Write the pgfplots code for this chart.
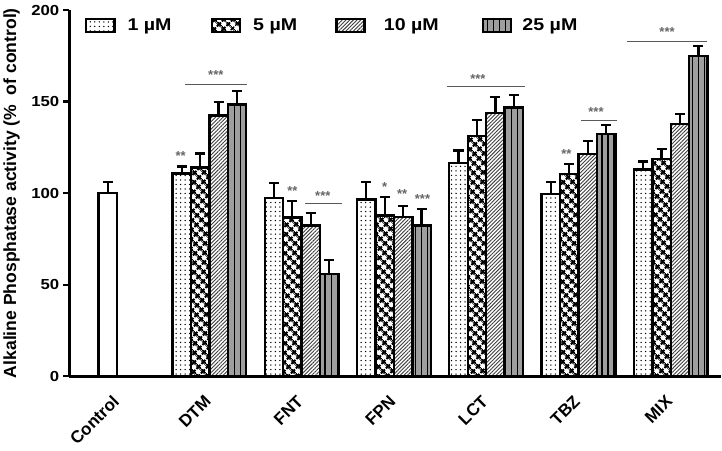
\documentclass[border=0pt]{standalone}
\usepackage{pgfplots}
\pgfplotsset{compat=1.18}
\usetikzlibrary{patterns.meta}
\usepackage{fontspec}
\setmainfont{Liberation Sans}
\newfontfamily\wide[FakeStretch=1.15]{Liberation Sans}

\tikzset{
  p1/.style={fill=white, postaction={pattern={Dots[distance=4.5pt, radius=0.75pt]}, pattern color=black}},
  p5/.style={fill=white, postaction={pattern={Hatch[angle=45, distance=6.4pt, line width=2.4pt]}, pattern color=black}},
  p10/.style={fill=white, postaction={pattern={Lines[angle=45, distance=2.6pt, line width=0.9pt]}, pattern color=black!75}},
  p25/.style={fill=black!38, postaction={pattern={Lines[angle=90, distance=6pt, line width=1.2pt]}, pattern color=black}},
  sig/.style={draw=black!65, line width=1pt},
  star/.style={text=black!60, font=\fontsize{13}{13}\selectfont\bfseries, inner sep=0pt},
}

\begin{document}
\begin{tikzpicture}
\begin{axis}[
  name=ax,
  scale only axis, width=649pt, height=365pt,
  xmin=-0.516, xmax=6.54, ymin=0, ymax=200,
  axis lines*=left,
  axis line style={line width=2.8pt},
  ybar, bar width=0.2,
  xtick={0,...,6},
  xticklabels={Control,DTM,FNT,FPN,LCT,TBZ,MIX},
  xtick style={draw=none},
  x tick label style={rotate=45, anchor=north east, font=\fontsize{17}{17}\selectfont\bfseries, xshift=-9pt, yshift=-1pt},
  ytick={0,50,...,200},
  y tick label style={font=\wide\fontsize{14.5}{14.5}\selectfont\bfseries, /pgf/number format/assume math mode=true, inner sep=0pt, xshift=-4pt},
  ytick style={line width=2.2pt, black},
  tick align=outside, major tick length=6pt,
  ylabel={\textbf{Alkaline Phosphatase activity (\%~~of control)}},
  ylabel style={font=\fontsize{17.5}{17.5}\selectfont, yshift=8pt},
  error bars/y dir=plus, error bars/y explicit,
  error bars/error bar style={line width=2.2pt, black},
  error bars/error mark options={rotate=90, mark size=5pt, line width=2.2pt, black},
  every axis plot/.append style={draw=black, line width=2.4pt},
  legend image code/.code={\draw[#1] (0pt,-6.5pt) rectangle (28pt,6.5pt);},
  legend columns=4,
  legend style={at={(0.019,0.988)}, anchor=north west, draw=none, fill=none,
    font=\wide\fontsize{17}{17}\selectfont\bfseries},
]
\addplot[p1, bar shift=-0.3] coordinates {(1,110.7) +- (0,3.8) (2,97.4) +- (0,8.0) (3,96.6) +- (0,9.4) (4,116.3) +- (0,7.0) (5,99.5) +- (0,6.8) (6,112.9) +- (0,4.4)};
\addlegendentry{\hspace*{10pt}1 µM\hspace*{37pt}}
\addplot[p5, bar shift=-0.1] coordinates {(1,114.0) +- (0,7.6) (2,86.8) +- (0,9.1) (3,87.8) +- (0,10.2) (4,131.3) +- (0,8.8) (5,110.4) +- (0,5.6) (6,118.7) +- (0,5.5)};
\addlegendentry{\hspace*{10pt}5 µM\hspace*{36pt}}
\addplot[p10, bar shift=0.1] coordinates {(1,142.5) +- (0,7.1) (2,82.4) +- (0,6.9) (3,87.0) +- (0,6.0) (4,143.9) +- (0,8.8) (5,121.5) +- (0,6.9) (6,137.7) +- (0,5.5)};
\addlegendentry{\hspace*{16pt}10 µM\hspace*{41pt}}
\addplot[p25, bar shift=0.3] coordinates {(1,148.5) +- (0,7.1) (2,55.7) +- (0,7.9) (3,82.4) +- (0,8.9) (4,146.8) +- (0,6.6) (5,132.4) +- (0,4.7) (6,174.8) +- (0,5.5)};
\addlegendentry{\hspace*{8pt}25 µM}
\addplot[fill=white, bar shift=-0.1, forget plot] coordinates {(0,100) +- (0,6)};

% significance marks
\draw[sig] (axis cs:0.734,159.3) -- (axis cs:1.41,159.3);
\node[star] at (axis cs:1.07,164.4) {***};
\node[star] at (axis cs:0.69,120.5) {**};
\node[star] at (axis cs:1.9,101) {**};
\draw[sig] (axis cs:2.04,94.1) -- (axis cs:2.44,94.1);
\node[star] at (axis cs:2.23,98.6) {***};
\node[star] at (axis cs:2.9,103.6) {*};
\node[star] at (axis cs:3.09,99.3) {**};
\node[star] at (axis cs:3.31,97) {***};
\draw[sig] (axis cs:3.57,158) -- (axis cs:4.42,158);
\node[star] at (axis cs:3.91,162.2) {***};
\node[star] at (axis cs:4.87,121.6) {**};
\draw[sig] (axis cs:5.03,139.7) -- (axis cs:5.42,139.7);
\node[star] at (axis cs:5.19,144.3) {***};
\draw[sig] (axis cs:5.53,183) -- (axis cs:6.39,183);
\node[star] at (axis cs:5.96,188.1) {***};
\end{axis}
\path ([yshift=10pt]ax.north west);
\end{tikzpicture}
\end{document}
